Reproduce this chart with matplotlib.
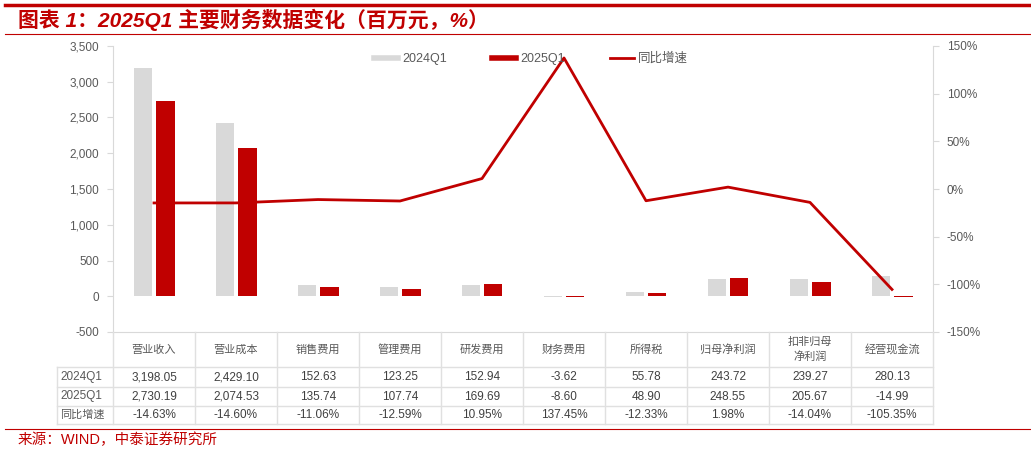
import numpy as np
import matplotlib.pyplot as plt
from matplotlib.lines import Line2D
from matplotlib.ticker import FuncFormatter

plt.rcParams['font.family'] = ['Liberation Sans', 'Noto Sans CJK SC', 'DejaVu Sans']

categories = ['营业收入', '营业成本', '销售费用', '管理费用', '研发费用',
              '财务费用', '所得税', '归母净利润', '扣非归母\n净利润', '经营现金流']
q2024 = [3198.05, 2429.10, 152.63, 123.25, 152.94, -3.62, 55.78, 243.72, 239.27, 280.13]
q2025 = [2730.19, 2074.53, 135.74, 107.74, 169.69, -8.60, 48.90, 248.55, 205.67, -14.99]
yoy = [-14.63, -14.60, -11.06, -12.59, 10.95, 137.45, -12.33, 1.98, -14.04, -105.35]

RED = '#c00000'
GRAY = '#d9d9d9'
TXT = '#595959'
W, H = 1031, 451

fig = plt.figure(figsize=(W / 100, H / 100), dpi=100)


def fx(px):
    return px / W


def fy(py):
    return 1 - py / H


# chart area
x0, x1, ytop, ybot = 113, 933, 46, 332
ax = fig.add_axes([fx(x0), fy(ybot), fx(x1 - x0), fy(ytop) - fy(ybot)])
n = len(categories)
x = np.arange(n)
bw = 0.22
ax.bar(x - 0.14, q2024, bw, color=GRAY, zorder=2)
ax.bar(x + 0.14, q2025, bw, color=RED, zorder=2)
ax.set_xlim(-0.5, n - 0.5)
ax.set_ylim(-500, 3500)
ax.set_yticks(np.arange(-500, 3501, 500))
ax.yaxis.set_major_formatter(FuncFormatter(lambda v, p: f'{v:,.0f}'))
ax.set_xticks([])
for s in ['top', 'right']:
    ax.spines[s].set_visible(False)
for s in ['left', 'bottom']:
    ax.spines[s].set_color(GRAY)
ax.tick_params(axis='y', colors=TXT, labelsize=8.5, length=4, color=GRAY, pad=6)

ax2 = ax.twinx()
ax2.plot(x, yoy, color=RED, lw=2.0, zorder=3)
ax2.set_ylim(-150, 150)
ax2.set_yticks(np.arange(-150, 151, 50))
ax2.yaxis.set_major_formatter(FuncFormatter(lambda v, p: f'{v:.0f}%'))
for s in ['top', 'left', 'bottom']:
    ax2.spines[s].set_visible(False)
ax2.spines['right'].set_color(GRAY)
ax2.tick_params(axis='y', colors=TXT, labelsize=8.5, length=4, color=GRAY, pad=6)

handles = [Line2D([], [], color=GRAY, lw=4),
           Line2D([], [], color=RED, lw=4),
           Line2D([], [], color=RED, lw=2)]
ax2.legend(handles, ['2024Q1', '2025Q1', '同比增速'], ncol=3, loc='center',
           bbox_to_anchor=(0.51, 0.955), frameon=False, fontsize=9,
           labelcolor=TXT, handlelength=1.9, handletextpad=0.35, columnspacing=3.6)

# data table under the chart
cw = (x1 - x0) / n
rows_y = [332, 367, 387, 406, 424]
lab_x = 57
lc = '#e0e0e0'
for yy in rows_y[1:]:
    fig.add_artist(Line2D([fx(lab_x), fx(x1)], [fy(yy), fy(yy)], color=lc, lw=1))
for k in range(n + 1):
    xx = x0 + k * cw
    fig.add_artist(Line2D([fx(xx), fx(xx)], [fy(rows_y[0]), fy(rows_y[-1])], color=lc, lw=1))
fig.add_artist(Line2D([fx(lab_x), fx(lab_x)], [fy(rows_y[1]), fy(rows_y[-1])], color=lc, lw=1))

row_labels = ['2024Q1', '2025Q1', '同比增速']
row_vals = [[f'{v:,.2f}' for v in q2024],
            [f'{v:,.2f}' for v in q2025],
            [f'{v:.2f}%' for v in yoy]]
for k, c in enumerate(categories):
    cx = x0 + (k + 0.5) * cw
    fig.text(fx(cx), fy((rows_y[0] + rows_y[1]) / 2), c, ha='center', va='center',
             fontsize=8, color=TXT, linespacing=1.5)
for r in range(3):
    cy = (rows_y[r + 1] + rows_y[r + 2]) / 2
    fig.text(fx(lab_x + 3), fy(cy), row_labels[r], ha='left', va='center',
             fontsize=8.5 if r < 2 else 8, color=TXT)
    for k in range(n):
        cx = x0 + (k + 0.5) * cw
        fig.text(fx(cx), fy(cy), row_vals[r][k], ha='center', va='center',
                 fontsize=8.5, color='#404040')

# title, rules and source
fig.add_artist(Line2D([fx(5), 1], [fy(5), fy(5)], color=RED, lw=2.5))
fig.add_artist(Line2D([fx(5), 1], [fy(34), fy(34)], color=RED, lw=0.8))
fig.add_artist(Line2D([fx(5), 1], [fy(429), fy(429)], color=RED, lw=0.8))
fig.text(fx(18), fy(20), '图表 1：2025Q1 主要财务数据变化（百万元，%）', ha='left', va='center',
         fontsize=15, fontweight='bold', fontstyle='italic', color=RED)
fig.text(fx(18), fy(440), '来源：WIND，中泰证券研究所', ha='left', va='center',
         fontsize=10.5, color=RED)

fig.savefig('out.png', dpi=100)
